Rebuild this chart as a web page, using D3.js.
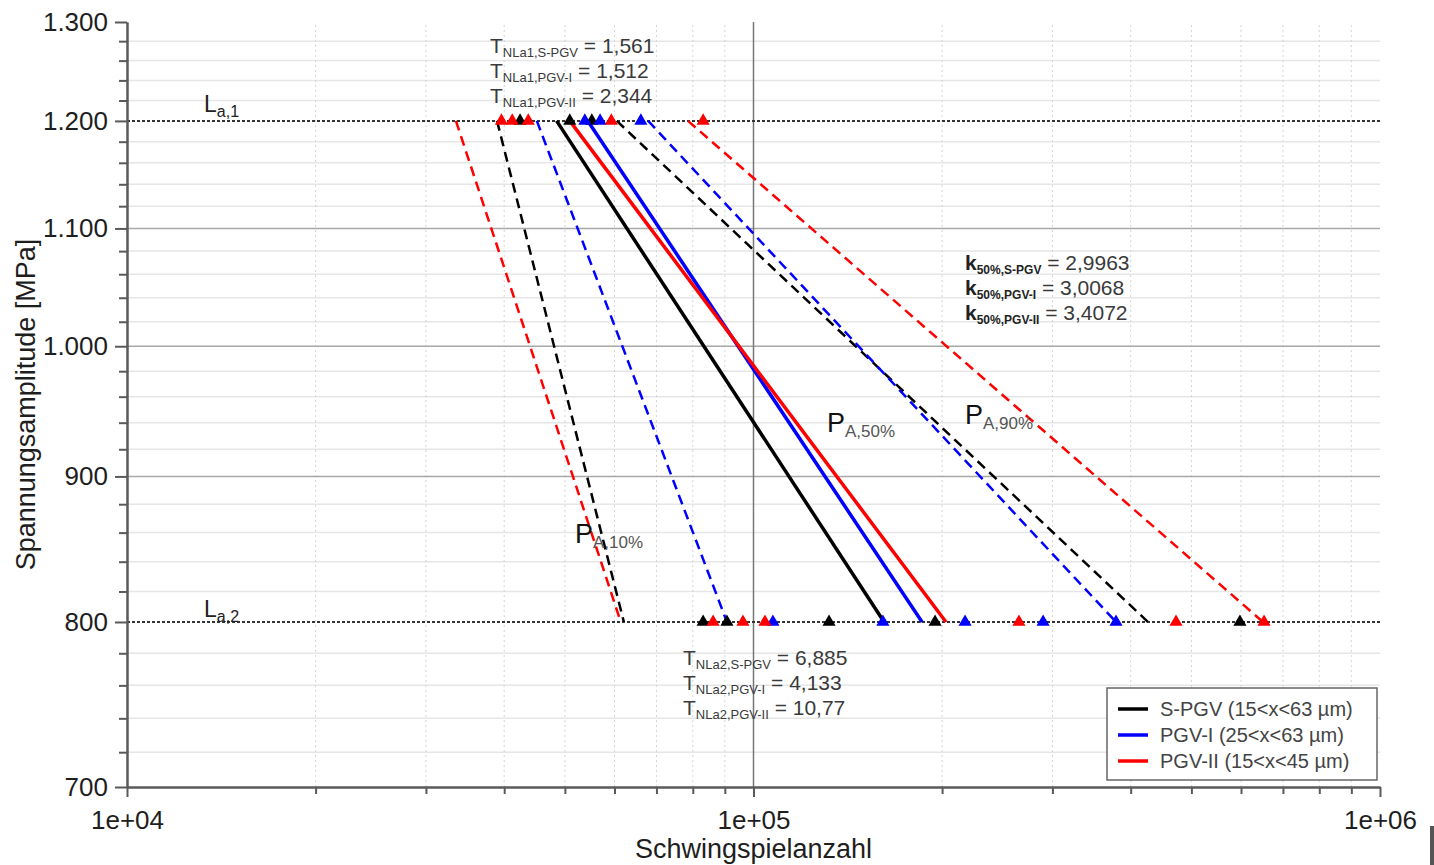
<!DOCTYPE html>
<html lang="de">
<head>
  <meta charset="UTF-8" />
  <title>Wöhlerlinien S-PGV / PGV-I / PGV-II</title>
  <script src="https://d3js.org/d3.v7.min.js"></script>
  <style>
    body { margin: 0; background: #fff; }
    svg { display: block; font-family: "Liberation Sans", Arial, Helvetica, sans-serif; }
    .axis path, .axis line { stroke: #5a5a5a; stroke-width: 2; }
    .axis text { font-size: 26px; fill: #1e1e1e; }
  </style>
</head>
<body>
  <div id="chart"></div>
  <script>
    // --- data ---
    const seriesNames = ['S-PGV (15<x<63 µm)', 'PGV-I (25<x<63 µm)', 'PGV-II (15<x<45 µm)'];
    const seriesKeys = ['S-PGV', 'PGV-I', 'PGV-II'];
    const levels = [1200, 800];              // L_a,1 and L_a,2 [MPa]

    // cycles at L_a,1 / L_a,2 for each probability line
    const n10La1 = [38960, 45100, 33500];
    const n10La2 = [62100, 90700, 61400];
    const n50La1 = [48500, 54400, 50900];
    const n50La2 = [161600, 185800, 202900];
    const n90La1 = [60500, 67900, 78600];
    const n90La2 = [426300, 379000, 650600];

    // single test results
    const testsLa1 = [
      [42400, 50900, 55200],
      [53800, 56900, 66100],
      [39600, 41200, 43700, 59300, 83100]
    ];
    const testsLa2 = [
      [83100, 90700, 132000, 194900, 597600],
      [107400, 160900, 217600, 289900, 379000],
      [86200, 96200, 104300, 265300, 472500, 653000]
    ];

    const tNLa1 = ['1,561', '1,512', '2,344'];
    const tNLa2 = ['6,885', '4,133', '10,77'];
    const k50 = ['2,9963', '3,0068', '3,4072'];

    const yTicks = [700, 800, 900, 1000, 1100, 1200, 1300];
    const xTicks = [1e4, 1e5, 1e6];
    const xTickLabels = ['1e+04', '1e+05', '1e+06'];

    const colors = ['#000000', '#0000ff', '#ff0000'];

    // --- setup ---
    const W = 1434, H = 865;
    const svg = d3.select('#chart').append('svg').attr('width', W).attr('height', H);

    const x = d3.scaleLog().domain([1e4, 1e6]).range([127, 1380]);
    const y = d3.scaleLog().domain([700, 1300]).range([787, 22]);

    const de = d3.formatLocale({ decimal: ',', thousands: '.', grouping: [3], currency: ['', ''] });
    const fmtY = de.format(',d');

    const yMinor = d3.range(720, 1300, 20).filter(v => v % 100 !== 0);
    const xMinor = [];
    [1e4, 1e5].forEach(d => { for (let i = 2; i <= 9; i++) xMinor.push(d * i); });

    // grid
    const grid = svg.append('g');
    grid.selectAll('.hminor').data(yMinor).join('line')
      .attr('x1', x(1e4)).attr('x2', x(1e6))
      .attr('y1', d => y(d)).attr('y2', d => y(d))
      .attr('stroke', '#e6e6e6').attr('stroke-width', 1.5);
    grid.selectAll('.vminor').data(xMinor).join('line')
      .attr('x1', d => x(d)).attr('x2', d => x(d))
      .attr('y1', y(700)).attr('y2', y(1300))
      .attr('stroke', '#d4d4d4').attr('stroke-width', 1).attr('stroke-dasharray', '2,3');
    grid.selectAll('.hmajor').data([900, 1000, 1100]).join('line')
      .attr('x1', x(1e4)).attr('x2', x(1e6))
      .attr('y1', d => y(d)).attr('y2', d => y(d))
      .attr('stroke', '#a8a8a8').attr('stroke-width', 1.5);
    grid.append('line')
      .attr('x1', x(1e5)).attr('x2', x(1e5))
      .attr('y1', y(700)).attr('y2', y(1300))
      .attr('stroke', '#777').attr('stroke-width', 1.5);

    // load levels
    grid.selectAll('.level').data(levels).join('line')
      .attr('x1', x(1e4)).attr('x2', x(1e6))
      .attr('y1', d => y(d)).attr('y2', d => y(d))
      .attr('stroke', '#333').attr('stroke-width', 2).attr('stroke-dasharray', '3,2');

    // probability lines
    const lineData = [];
    seriesKeys.forEach((k, i) => {
      lineData.push({ i, dash: true, pts: [n10La1[i], n10La2[i]] });
      lineData.push({ i, dash: true, pts: [n90La1[i], n90La2[i]] });
    });
    seriesKeys.forEach((k, i) => lineData.push({ i, dash: false, pts: [n50La1[i], n50La2[i]] }));

    svg.append('g').selectAll('line').data(lineData).join('line')
      .attr('x1', d => x(d.pts[0])).attr('y1', y(levels[0]))
      .attr('x2', d => x(d.pts[1])).attr('y2', y(levels[1]))
      .attr('stroke', d => colors[d.i])
      .attr('stroke-width', d => d.dash ? 2.5 : 3.5)
      .attr('stroke-dasharray', d => d.dash ? '10,6' : null);

    // test points
    const pts = [];
    testsLa1.forEach((arr, i) => arr.forEach(n => pts.push({ i, n, s: levels[0] })));
    testsLa2.forEach((arr, i) => arr.forEach(n => pts.push({ i, n, s: levels[1] })));
    const tri = d3.symbol().type(d3.symbolTriangle).size(75);
    svg.append('g').selectAll('path').data(pts).join('path')
      .attr('d', tri)
      .attr('transform', d => `translate(${x(d.n)},${y(d.s)})`)
      .attr('fill', d => colors[d.i]);

    // axes
    svg.append('g').attr('class', 'axis')
      .attr('transform', `translate(${x(1e4)},0)`)
      .call(d3.axisLeft(y).tickValues(yMinor).tickSize(8).tickFormat('').tickSizeOuter(0));
    svg.append('g').attr('class', 'axis')
      .attr('transform', `translate(${x(1e4)},0)`)
      .call(d3.axisLeft(y).tickValues(yTicks).tickSize(12).tickPadding(7).tickFormat(fmtY).tickSizeOuter(0));

    svg.append('g').attr('class', 'axis')
      .attr('transform', `translate(0,${y(700)})`)
      .call(d3.axisBottom(x).tickValues(xMinor).tickSize(7).tickFormat('').tickSizeOuter(0));
    svg.append('g').attr('class', 'axis')
      .attr('transform', `translate(0,${y(700)})`)
      .call(d3.axisBottom(x).tickValues(xTicks).tickSize(10).tickPadding(14)
        .tickFormat((d, i) => xTickLabels[i]).tickSizeOuter(0));

    svg.append('text')
      .attr('x', x(1e5)).attr('y', 858)
      .attr('text-anchor', 'middle').attr('font-size', 27).attr('fill', '#1e1e1e')
      .text('Schwingspielanzahl');
    svg.append('text')
      .attr('transform', `translate(35,${(y(700) + y(1300)) / 2}) rotate(-90)`)
      .attr('text-anchor', 'middle').attr('font-size', 27).attr('fill', '#1e1e1e')
      .text('Spannungsamplitude [MPa]');

    // rich text helper: parts = [{t, size, sub, bold, fill}]
    function rich(px, py, parts, fill) {
      const t = svg.append('text').attr('x', px).attr('y', py).attr('fill', fill || '#333');
      let shift = 0;
      parts.forEach(p => {
        const off = p.sub || 0;
        t.append('tspan')
          .attr('dy', off - shift)
          .attr('font-size', p.size)
          .attr('font-weight', p.bold ? 'bold' : null)
          .attr('fill', p.fill || null)
          .text(p.t);
        shift = off;
      });
      return t;
    }

    // level labels
    rich(204, y(levels[0]) - 9, [{ t: 'L', size: 23 }, { t: 'a,1', size: 16, sub: 5 }], '#222');
    rich(204, y(levels[1]) - 5, [{ t: 'L', size: 23 }, { t: 'a,2', size: 16, sub: 5 }], '#222');

    // T_N blocks
    seriesKeys.forEach((k, i) => {
      rich(490, 53 + i * 25, [
        { t: 'T', size: 21 }, { t: 'NLa1,' + k, size: 13, sub: 4 }, { t: ' = ' + tNLa1[i], size: 21 }
      ], '#3a3a3a');
      rich(683, 665 + i * 25, [
        { t: 'T', size: 21 }, { t: 'NLa2,' + k, size: 13, sub: 4 }, { t: ' = ' + tNLa2[i], size: 21 }
      ], '#3a3a3a');
      rich(965, 270 + i * 25, [
        { t: 'k', size: 21, bold: true, fill: '#222' }, { t: '50%,' + k, size: 12, sub: 4, bold: true, fill: '#222' },
        { t: ' = ' + k50[i], size: 21 }
      ], '#3a3a3a');
    });

    // probability labels
    rich(827, 432, [{ t: 'P', size: 27, fill: '#111' }, { t: 'A,50%', size: 17, sub: 5 }], '#555');
    rich(965, 424, [{ t: 'P', size: 27, fill: '#111' }, { t: 'A,90%', size: 17, sub: 5 }], '#555');
    rich(575, 543, [{ t: 'P', size: 27, fill: '#111' }, { t: 'A,10%', size: 17, sub: 5 }], '#555');

    // legend
    const lg = svg.append('g').attr('transform', 'translate(1107,688)');
    lg.append('rect').attr('width', 270).attr('height', 92)
      .attr('fill', '#fff').attr('stroke', '#666').attr('stroke-width', 1.5);
    const item = lg.selectAll('.item').data(seriesNames).join('g')
      .attr('transform', (d, i) => `translate(0,${21 + i * 26})`);
    item.append('line').attr('x1', 11).attr('x2', 41)
      .attr('stroke', (d, i) => colors[i]).attr('stroke-width', 3.5);
    item.append('text').attr('x', 53).attr('dy', '0.35em')
      .attr('font-size', 20).attr('fill', '#444').text(d => d);

    // scan edge at bottom right
    svg.append('rect').attr('x', 1430).attr('y', 826).attr('width', 4).attr('height', 39).attr('fill', '#555');
  </script>
</body>
</html>
